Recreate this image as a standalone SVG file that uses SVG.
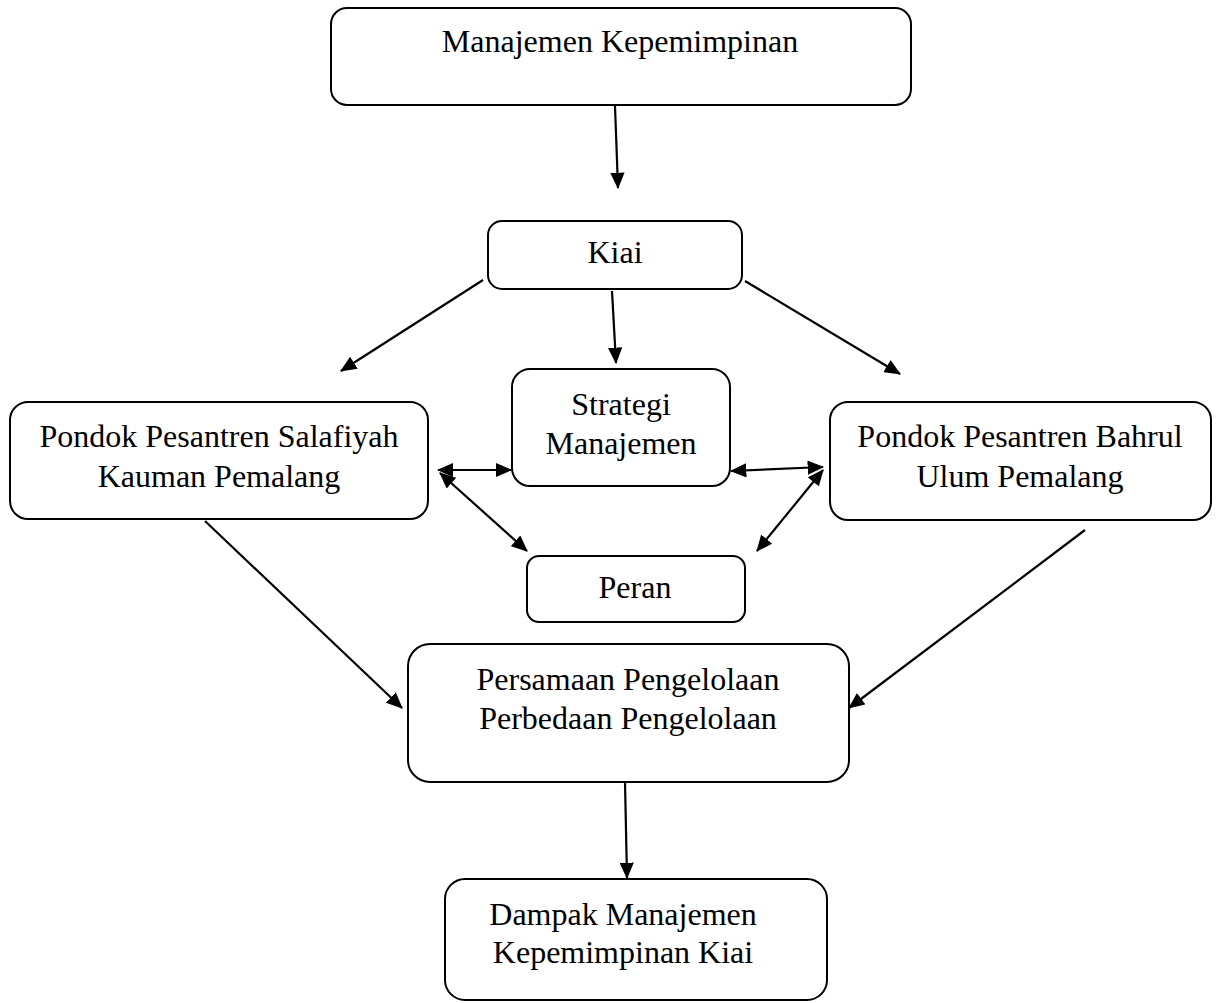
<svg xmlns="http://www.w3.org/2000/svg" width="1219" height="1003" viewBox="0 0 1219 1003">
<style>
.box{fill:#fff;stroke:#000;stroke-width:2}
.t{font-family:"Liberation Serif","Times New Roman",serif;font-size:32px;fill:#000;text-anchor:middle}
.c{stroke:#000;stroke-width:2.2;fill:none;marker-end:url(#ah)}
.d{marker-start:url(#ah)}
</style>
<defs>
<marker id="ah" viewBox="0 0 8 7" refX="7.5" refY="3.5" markerWidth="7.5" markerHeight="6.5" orient="auto-start-reverse">
<path d="M0,0 L8,3.5 L0,7 z" fill="#000"/>
</marker>
</defs>
<rect width="1219" height="1003" fill="#fff"/>
<g id="n-manajemen">
<rect class="box" x="331" y="8" width="580" height="97" rx="16"/>
<text class="t" x="620" y="52">Manajemen Kepemimpinan</text>
</g>
<g id="n-kiai">
<rect class="box" x="488" y="221" width="254" height="68" rx="14"/>
<text class="t" x="615" y="263">Kiai</text>
</g>
<g id="n-strategi">
<rect class="box" x="512" y="369" width="218" height="117" rx="18"/>
<text class="t" x="621" y="415">Strategi</text>
<text class="t" x="621" y="454">Manajemen</text>
</g>
<g id="n-salafiyah">
<rect class="box" x="10" y="402" width="418" height="117" rx="18"/>
<text class="t" x="219" y="447">Pondok Pesantren Salafiyah</text>
<text class="t" x="219" y="487">Kauman Pemalang</text>
</g>
<g id="n-bahrul">
<rect class="box" x="830" y="402" width="381" height="118" rx="18"/>
<text class="t" x="1020" y="447">Pondok Pesantren Bahrul</text>
<text class="t" x="1020" y="487">Ulum Pemalang</text>
</g>
<g id="n-peran">
<rect class="box" x="527" y="556" width="218" height="66" rx="12"/>
<text class="t" x="635" y="598">Peran</text>
</g>
<g id="n-persamaan">
<rect class="box" x="408" y="644" width="441" height="138" rx="22"/>
<text class="t" x="628" y="690">Persamaan Pengelolaan</text>
<text class="t" x="628" y="729">Perbedaan Pengelolaan</text>
</g>
<g id="n-dampak">
<rect class="box" x="445" y="879" width="382" height="121" rx="20"/>
<text class="t" x="623" y="925">Dampak Manajemen</text>
<text class="t" x="623" y="963">Kepemimpinan Kiai</text>
</g>
<g id="connectors">
<line class="c" x1="615" y1="106" x2="618" y2="188"/>
<line class="c" x1="483" y1="280" x2="341" y2="371"/>
<line class="c" x1="612" y1="291" x2="616" y2="363"/>
<line class="c" x1="745" y1="281" x2="900" y2="374"/>
<line class="c d" x1="438" y1="470" x2="511" y2="470"/>
<line class="c d" x1="440" y1="473" x2="527" y2="551"/>
<line class="c d" x1="731" y1="471" x2="823" y2="467"/>
<line class="c d" x1="823" y1="470" x2="757" y2="551"/>
<line class="c" x1="205" y1="521" x2="402" y2="708"/>
<line class="c" x1="1085" y1="530" x2="849" y2="708"/>
<line class="c" x1="625" y1="782" x2="627" y2="878"/>
</g>
</svg>
